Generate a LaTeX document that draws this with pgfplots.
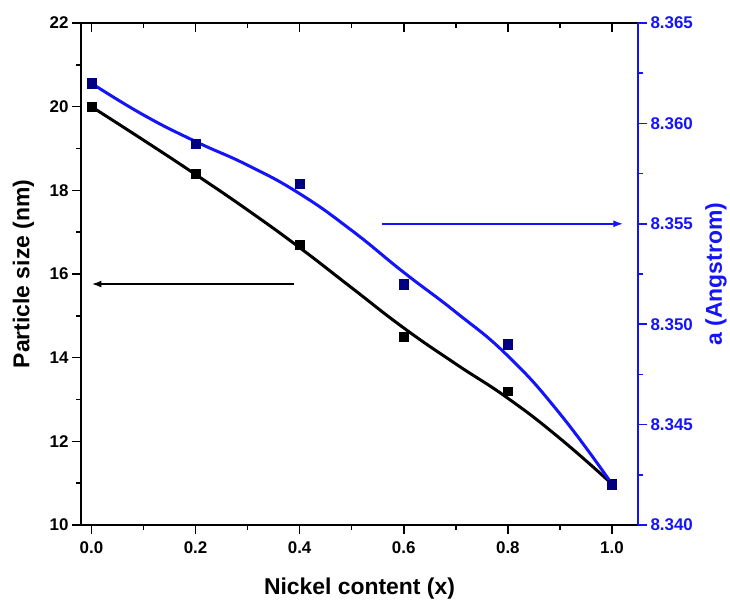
\documentclass[border=0pt]{standalone}
\usepackage{pgfplots}
\pgfplotsset{compat=1.18}
\usepackage{fontspec}
\setmainfont{Liberation Sans}
\usetikzlibrary{arrows.meta}

\definecolor{lineblue}{RGB}{20,20,250}
\definecolor{markblue}{RGB}{0,0,128}

% measured points
\pgfplotstableread{
x    d
0.0  20.0
0.2  18.4
0.4  16.7
0.6  14.5
0.8  13.2
1.0  11.0
}\sizedata
\pgfplotstableread{
x    a
0.0  8.362
0.2  8.359
0.4  8.357
0.6  8.352
0.8  8.349
1.0  8.342
}\latticedata
% smoothed trend curves
\pgfplotstableread{
x     d
0.0   20.00
0.1   19.20
0.2   18.38
0.3   17.53
0.4   16.63
0.5   15.67
0.6   14.71
0.7   13.85
0.8   13.03
0.9   12.07
1.0   10.98
}\sizefit
\pgfplotstableread{
x     a
0.0   8.36200
0.1   8.36042
0.2   8.35910
0.3   8.35792
0.4   8.35650
0.5   8.35467
0.6   8.35258
0.7   8.35060
0.8   8.34842
0.9   8.34554
1.0   8.34204
}\latticefit

\pgfplotsset{
  base/.style={
    scale only axis, width=557bp, height=502bp,
    at={(0,0)}, anchor=south west,
    xmin=-0.02, xmax=1.05,
    axis line style={line width=1.7bp},
    major tick length=9bp, minor tick length=5bp,
    every tick/.style={line width=1.5bp},
    /pgf/number format/assume math mode=true,
    tick label style={font=\fontsize{17}{20}\selectfont\bfseries},
    label style={font=\fontsize{23}{27}\selectfont\bfseries},
    xtick={0,0.2,0.4,0.6,0.8,1.0}, minor x tick num=1,
  },
}

\begin{document}
\begin{tikzpicture}
\useasboundingbox (-81bp,-76bp) rectangle (649bp,525bp);
% left axis: particle size
\begin{axis}[base,
  axis x line*=bottom, axis y line*=left, tick align=outside,
  ymin=10, ymax=22, ytick={10,12,14,16,18,20,22}, minor y tick num=1,
  xticklabel style={yshift=-4bp,/pgf/number format/.cd,fixed,fixed zerofill,precision=1},
  xlabel={Nickel content (x)}, ylabel={Particle size (nm)},
  xlabel style={at={(axis description cs:0.5,-0.1394)}, anchor=base},
  ylabel style={at={(axis description cs:-0.1032,0.5)}, anchor=center},
  every tick/.append style={black}]
  \addplot[black, line width=3bp, smooth, tension=0.8, no marks] table[x=x,y=d]{\sizefit};
  \addplot[only marks, mark=square*, mark size=4.4bp, black] table[x=x,y=d]{\sizedata};
  \draw[black, line width=2bp, -{Latex[length=10bp,width=7bp]}] (axis cs:0.389,15.76) -- (axis cs:0.0,15.76);
\end{axis}
% top axis: inward ticks only
\begin{axis}[base,
  axis x line*=top, axis y line=none, tick align=inside,
  ymin=0, ymax=1, xticklabels={}]
\end{axis}
% right axis: lattice parameter
\begin{axis}[base,
  axis x line=none, axis y line*=right, tick align=outside,
  ymin=8.340, ymax=8.365, ytick={8.340,8.345,8.350,8.355,8.360,8.365}, minor y tick num=1,
  scaled y ticks=false,
  yticklabel style={lineblue,/pgf/number format/.cd,fixed,fixed zerofill,precision=3},
  y axis line style={lineblue},
  ytick style={lineblue},
  ylabel={a (Angstrom)},
  ylabel style={lineblue, at={(axis description cs:1.140,0.5)}, anchor=center}]
  \addplot[lineblue, line width=3bp, smooth, tension=0.8, no marks] table[x=x,y=a]{\latticefit};
  \addplot[only marks, mark=square*, mark size=4.7bp, markblue] table[x=x,y=a]{\latticedata};
  \draw[lineblue, line width=2bp, -{Latex[length=10bp,width=7bp]}] (axis cs:0.5585,8.3550) -- (axis cs:1.022,8.3550);
\end{axis}
\end{tikzpicture}
\end{document}
